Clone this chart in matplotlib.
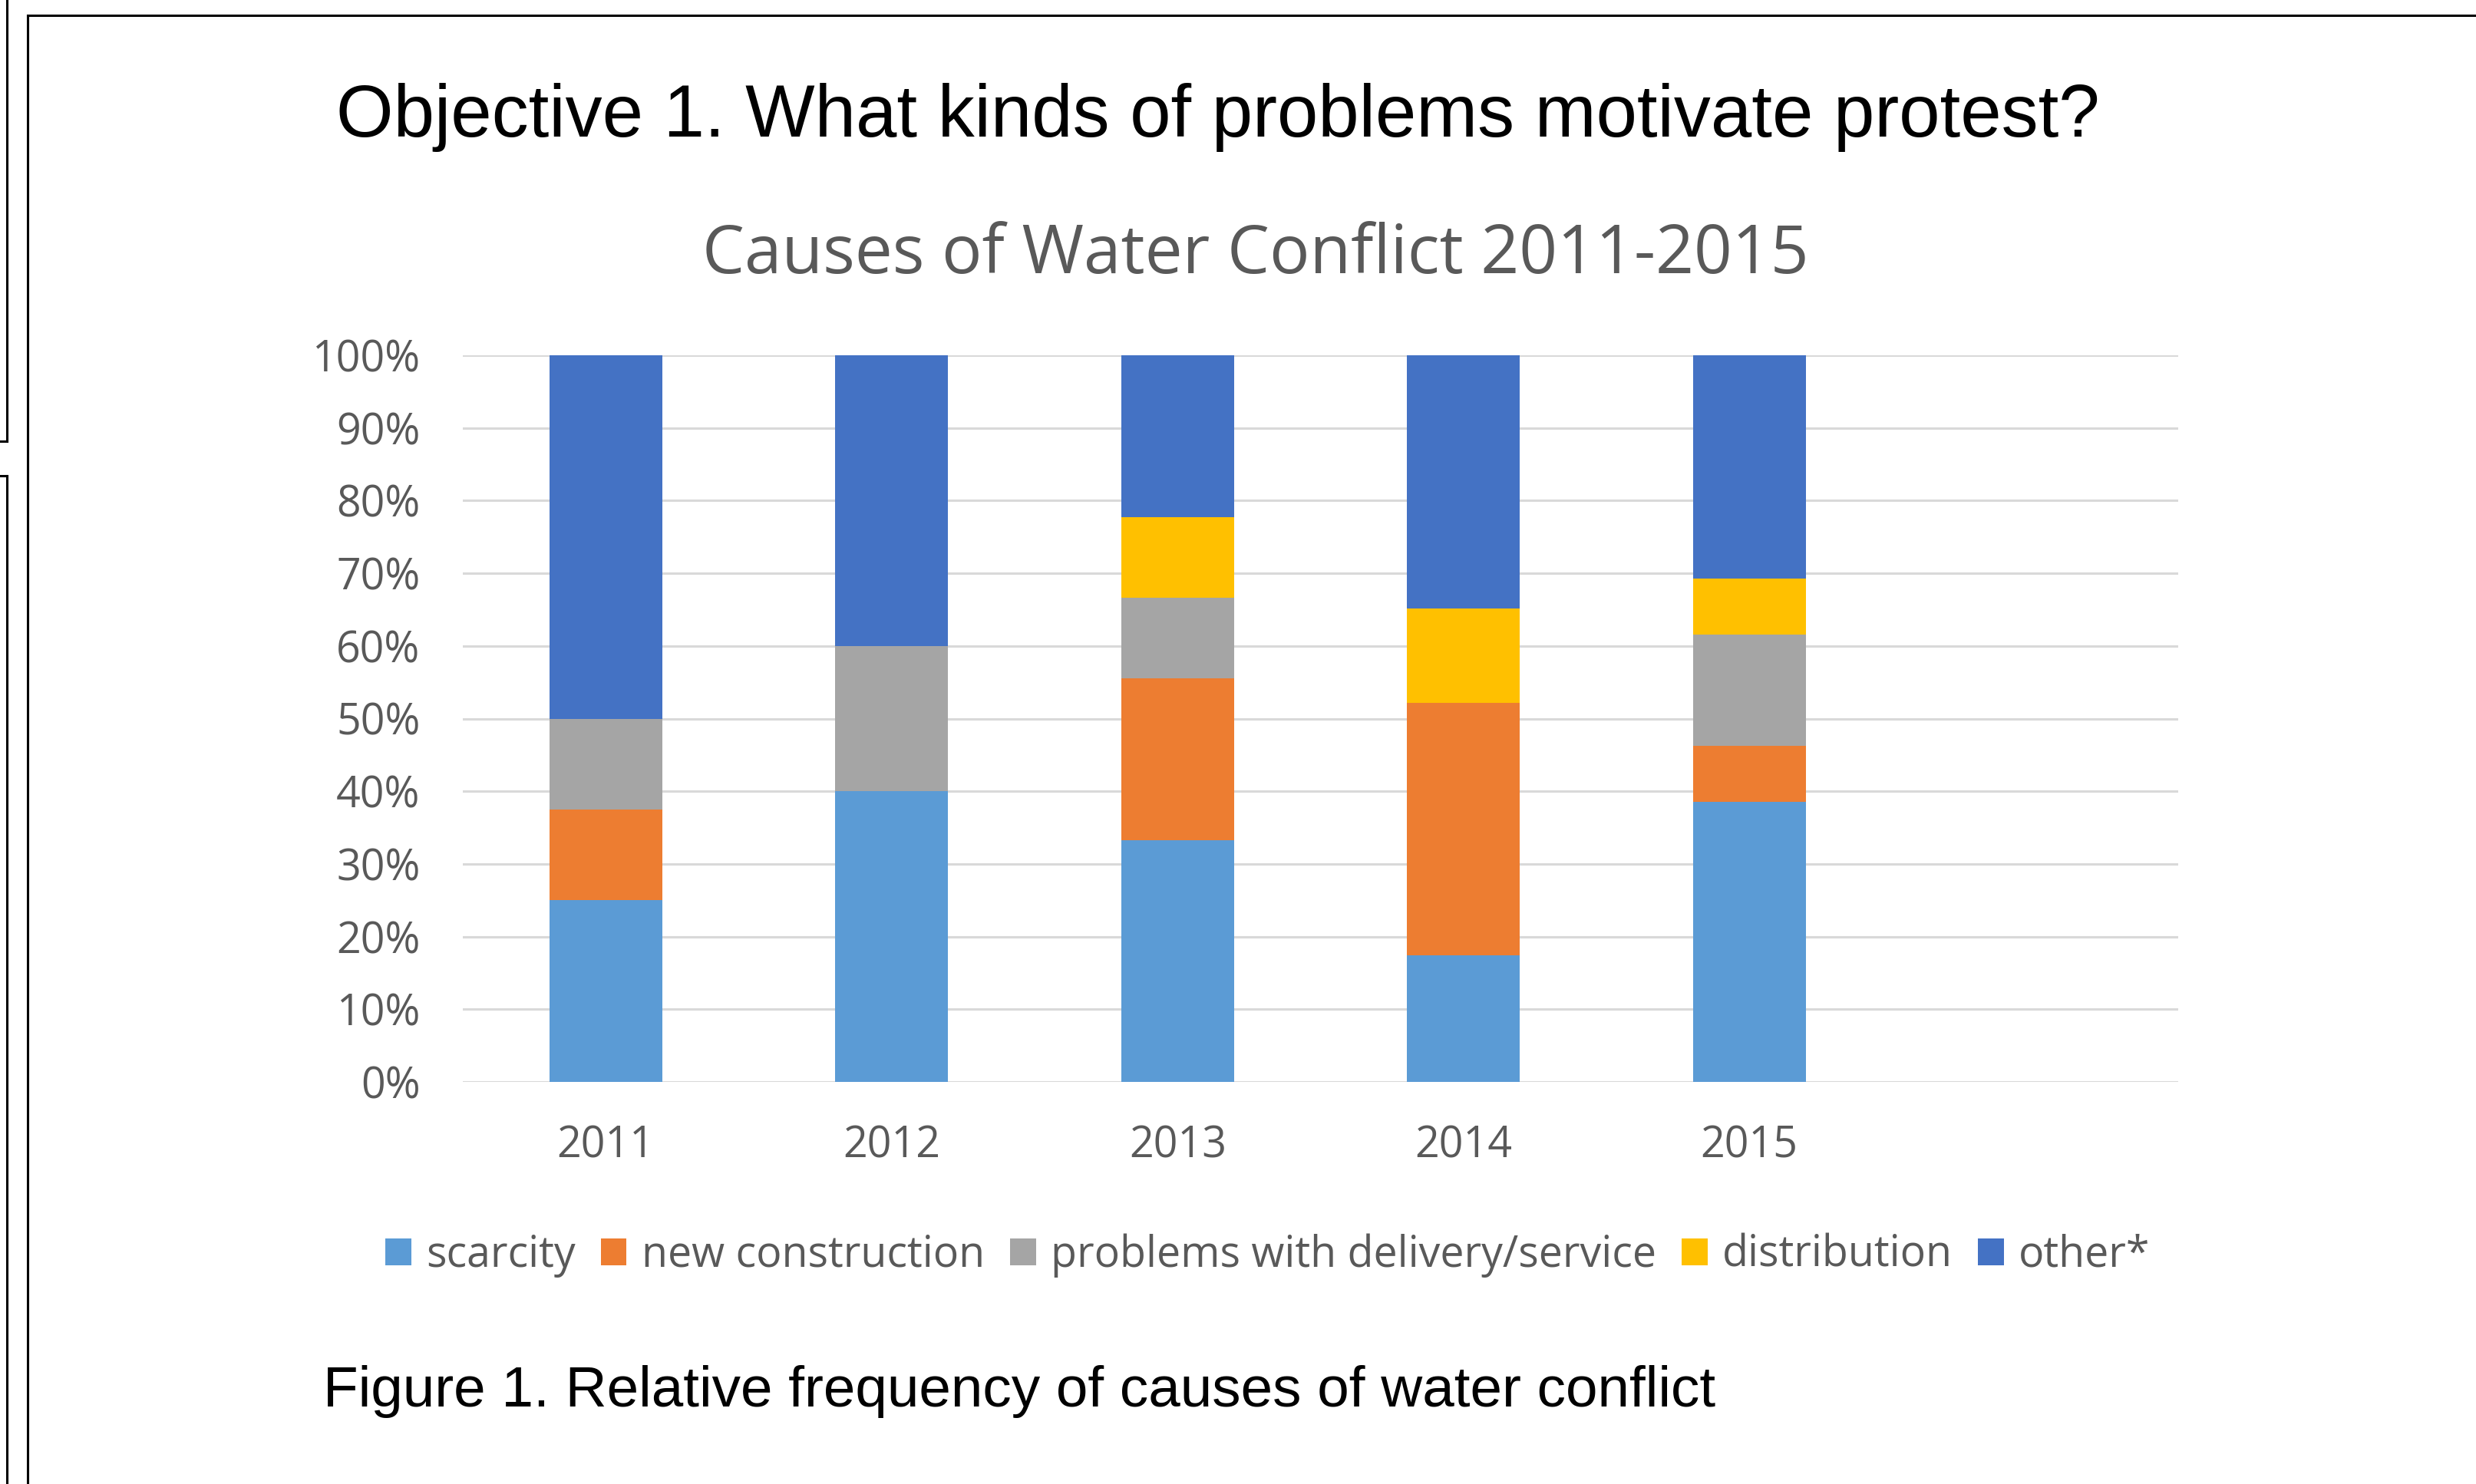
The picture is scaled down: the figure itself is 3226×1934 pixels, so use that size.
#imports
import matplotlib
matplotlib.use("Agg")
import matplotlib.pyplot as plt
from matplotlib.lines import Line2D
from matplotlib.patches import Patch
import numpy as np

#data (percent of conflicts per year)
years = ['2011', '2012', '2013', '2014', '2015']
causes = ['scarcity', 'new construction', 'problems with delivery/service', 'distribution', 'other*']
scarcity = [25.0, 40.0, 33.3, 17.4, 38.5]
new_construction = [12.5, 0.0, 22.2, 34.8, 7.7]
delivery_service = [12.5, 20.0, 11.1, 0.0, 15.4]
distribution = [0.0, 0.0, 11.1, 13.0, 7.7]
other = [50.0, 40.0, 22.3, 34.8, 30.7]
y_ticks = [0, 10, 20, 30, 40, 50, 60, 70, 80, 90, 100]
colors = ['#5B9BD5', '#ED7D31', '#A5A5A5', '#FFC000', '#4472C4']

W, H = 3226, 1934
fig = plt.figure(figsize=(W / 100, H / 100), dpi=100)
fig.patch.set_facecolor('white')

def fx(px):
    return px / W

def fy(py):
    return 1 - py / H

#slide frame lines
black = dict(color='black', lw=2.2, transform=fig.transFigure)
fig.add_artist(Line2D([fx(36), fx(36)], [fy(20), 0], **black))
fig.add_artist(Line2D([fx(36), 1], [fy(20), fy(20)], **black))
fig.add_artist(Line2D([fx(9), fx(9)], [1, fy(575)], **black))
fig.add_artist(Line2D([0, fx(9)], [fy(575), fy(575)], **black))
fig.add_artist(Line2D([0, fx(9)], [fy(620), fy(620)], **black))
fig.add_artist(Line2D([fx(9), fx(9)], [fy(620), 0], **black))

#slide texts
fig.text(fx(438), fy(178), 'Objective 1. What kinds of problems motivate protest?',
         family='Liberation Sans', fontsize=69, color='black', ha='left', va='baseline')
fig.text(fx(421), fy(1833), 'Figure 1. Relative frequency of causes of water conflict',
         family='Liberation Sans', fontsize=53.8, color='black', ha='left', va='baseline')

#chart
grey_txt = '#595959'
ax = fig.add_axes([fx(603), fy(1410), fx(2838) - fx(603), fy(463) - fy(1410)])
x = np.arange(len(years))
series = [scarcity, new_construction, delivery_service, distribution, other]
bottom = np.zeros(len(years))
for vals, c in zip(series, colors):
    ax.bar(x, vals, width=0.395, bottom=bottom, color=c, zorder=3)
    bottom = bottom + np.array(vals)

ax.set_xlim(-0.5, 5.5)
ax.set_ylim(0, 100)
ax.set_yticks(y_ticks)
ax.set_yticklabels([str(t) + '%' for t in y_ticks])
ax.set_xticks(x)
ax.set_xticklabels(years)
ax.yaxis.grid(True, color='#D9D9D9', lw=2.2, zorder=0)
ax.set_axisbelow(True)
for s in ax.spines.values():
    s.set_visible(False)
ax.tick_params(axis='both', length=0, labelsize=40, labelcolor=grey_txt)
ax.tick_params(axis='y', pad=40)
ax.tick_params(axis='x', pad=40)
for lab in ax.get_xticklabels() + ax.get_yticklabels():
    lab.set_family('Open Sans')

fig.text(fx(1636), fy(333), 'Causes of Water Conflict 2011-2015', family='Open Sans',
         fontsize=62.8, color=grey_txt, ha='center', va='center')

handles = [Patch(facecolor=c, edgecolor='none') for c in colors]
leg = fig.legend(handles, causes, loc='center', bbox_to_anchor=(fx(1652), fy(1636)),
                 ncol=5, frameon=False, handlelength=0.6, handleheight=0.6,
                 handletextpad=0.35, columnspacing=0.6, prop={'family': 'Open Sans', 'size': 40})
for t in leg.get_texts():
    t.set_color(grey_txt)

fig.savefig('out.png', dpi=100, facecolor='white')
